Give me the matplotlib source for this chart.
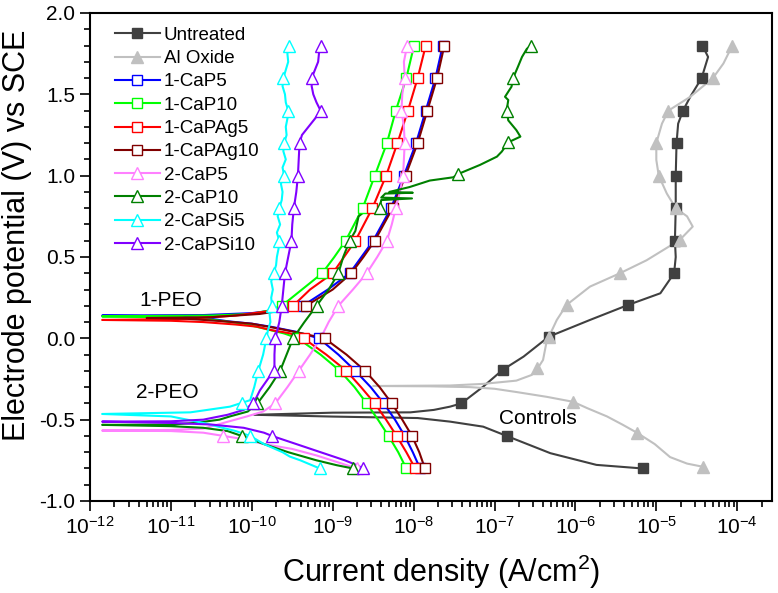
import numpy as np
import matplotlib
matplotlib.use("Agg")
import matplotlib.pyplot as plt
from matplotlib.lines import Line2D
from matplotlib.ticker import LogLocator, MultipleLocator, LogFormatterMathtext, FormatStrFormatter

plt.rcParams['font.family'] = ['Liberation Sans', 'DejaVu Sans']
plt.rcParams['axes.unicode_minus'] = False
plt.rcParams['mathtext.fontset'] = 'custom'
plt.rcParams['mathtext.rm'] = 'Liberation Sans'
plt.rcParams['mathtext.it'] = 'Liberation Sans:italic'

# ---------------- data: (potential V vs SCE, log10 current density A/cm2) ----------------
# Untreated
unt_E = [-0.80, -0.778, -0.706, -0.60, -0.543, -0.512, -0.49, -0.481, -0.47,
         -0.457, -0.455, -0.44, -0.42, -0.40, -0.297, -0.194, -0.112, 0.01, 0.113, 0.205,
         0.277, 0.40, 0.50, 0.60, 0.80, 1.00, 1.20, 1.32, 1.40, 1.485, 1.60, 1.73, 1.77, 1.80]
unt_I = [-5.17, -5.74, -6.31, -6.85, -7.14, -7.55, -7.95, -9.0, -9.97,
         -9.0, -8.04, -7.75, -7.55, -7.41, -7.14, -6.90, -6.64, -6.33, -5.82, -5.35,
         -4.95, -4.78, -4.76, -4.77, -4.76, -4.76, -4.75, -4.73, -4.67, -4.58, -4.44, -4.36, -4.40, -4.43]
unt_mE = [-0.80, -0.60, -0.40, -0.194, 0.01, 0.205, 0.40, 0.60, 0.80, 1.00, 1.20, 1.40, 1.60, 1.80]
unt_mI = [-5.17, -6.85, -7.41, -6.90, -6.33, -5.35, -4.78, -4.77, -4.76, -4.76, -4.75, -4.67, -4.44, -4.43]

# Al Oxide
alo_E = [-0.79, -0.77, -0.73, -0.65, -0.58, -0.53, -0.48, -0.43, -0.39, -0.36, -0.33, -0.31,
         -0.30, -0.295, -0.293, -0.29, -0.28, -0.26, -0.225, -0.195, -0.133, -0.03, 0.007,
         0.113, 0.205, 0.318, 0.40, 0.48, 0.605, 0.687, 0.75, 0.80, 0.89, 1.00, 1.097, 1.20,
         1.32, 1.40, 1.485, 1.60, 1.69, 1.80]
alo_I = [-4.42, -4.62, -4.83, -5.02, -5.24, -5.42, -5.61, -5.85, -6.03, -6.35, -6.73, -7.0,
         -7.3, -7.8, -8.5, -7.55, -7.14, -6.73, -6.54, -6.48, -6.40, -6.36, -6.33,
         -6.23, -6.11, -5.82, -5.45, -5.12, -4.71, -4.55, -4.62, -4.76, -4.87, -4.97, -5.0, -5.0,
         -4.93, -4.85, -4.58, -4.30, -4.17, -4.06]
alo_mE = [-0.79, -0.58, -0.39, -0.185, 0.007, 0.205, 0.40, 0.605, 0.80, 1.00, 1.20, 1.40, 1.60, 1.80]
alo_mI = [-4.42, -5.24, -6.03, -6.48, -6.33, -6.11, -5.45, -4.71, -4.76, -4.97, -5.0, -4.85, -4.30, -4.06]

POT = [-0.8, -0.6, -0.4, -0.2, 0.0, 0.2, 0.4, 0.6, 0.8, 1.0, 1.2, 1.4, 1.6, 1.8]

# 1-CaP5
c5_E = [-0.8, -0.7, -0.6, -0.5, -0.4, -0.3, -0.2, -0.1, 0.0, 0.04, 0.07, 0.09, 0.105, 0.12, 0.135, 0.14,
        0.143, 0.155, 0.18, 0.2, 0.3, 0.4, 0.6, 0.8, 1.0, 1.2, 1.4, 1.6, 1.8]
c5_I = [-7.92, -8.01, -8.11, -8.23, -8.37, -8.53, -8.72, -8.93, -9.17, -9.45, -9.75, -10.0, -10.3, -10.5, -11.0, -11.85,
        -10.6, -10.0, -9.6, -9.37, -9.06, -8.79, -8.50, -8.28, -8.12, -7.97, -7.85, -7.73, -7.64]
c5_mI = [-7.92, -8.11, -8.37, -8.72, -9.17, -9.37, -8.79, -8.50, -8.28, -8.12, -7.97, -7.85, -7.73, -7.64]

# 1-CaP10
c10_E = [-0.8, -0.7, -0.6, -0.5, -0.4, -0.3, -0.2, -0.1, 0.0, 0.03, 0.06, 0.09, 0.115, 0.13, 0.135,
         0.14, 0.15, 0.17, 0.2, 0.3, 0.4, 0.5, 0.6, 0.8, 1.0, 1.2, 1.4, 1.6, 1.8]
c10_I = [-8.09, -8.19, -8.31, -8.44, -8.58, -8.73, -8.91, -9.15, -9.43, -9.6, -9.85, -10.1, -10.5, -11.0, -11.85,
         -10.5, -10.0, -9.8, -9.63, -9.38, -9.13, -8.98, -8.84, -8.63, -8.48, -8.33, -8.22, -8.09, -7.995]
c10_mI = [-8.09, -8.31, -8.58, -8.91, -9.43, -9.63, -9.13, -8.84, -8.63, -8.48, -8.33, -8.22, -8.09, -7.995]

# 1-CaPAg5
a5_E = [-0.8, -0.7, -0.6, -0.5, -0.4, -0.3, -0.2, -0.1, 0.0, 0.031, 0.05, 0.072, 0.085, 0.10, 0.108, 0.113,
        0.12, 0.14, 0.17, 0.2, 0.3, 0.4, 0.5, 0.6, 0.8, 1.0, 1.2, 1.4, 1.6, 1.8]
a5_I = [-7.98, -8.09, -8.21, -8.34, -8.48, -8.65, -8.83, -9.08, -9.36, -9.53, -9.75, -9.94, -10.2, -10.6, -11.0, -11.85,
        -10.8, -10.2, -9.75, -9.49, -9.28, -9.0, -8.86, -8.72, -8.51, -8.34, -8.20, -8.07, -7.95, -7.85]
a5_mI = [-7.98, -8.21, -8.48, -8.83, -9.36, -9.49, -9.0, -8.72, -8.51, -8.34, -8.20, -8.07, -7.95, -7.85]

# 1-CaPAg10
a10_E = [-0.8, -0.7, -0.6, -0.5, -0.4, -0.3, -0.2, -0.1, 0.0, 0.03, 0.062, 0.09, 0.105, 0.12, 0.125,
         0.13, 0.15, 0.18, 0.2, 0.3, 0.4, 0.5, 0.6, 0.8, 1.0, 1.2, 1.4, 1.6, 1.8]
a10_I = [-7.86, -7.93, -8.02, -8.14, -8.27, -8.42, -8.60, -8.83, -9.10, -9.38, -9.69, -10.0, -10.35, -10.8, -11.3,
         -10.5, -9.9, -9.5, -9.33, -9.0, -8.77, -8.62, -8.48, -8.26, -8.10, -7.95, -7.83, -7.71, -7.62]
a10_mI = [-7.86, -8.02, -8.27, -8.60, -9.10, -9.33, -8.77, -8.48, -8.26, -8.10, -7.95, -7.83, -7.71, -7.62]

# 2-CaP5
p5_E = [-0.8, -0.76, -0.72, -0.68, -0.65, -0.62, -0.6, -0.58, -0.57, -0.567,
        -0.563, -0.555, -0.52, -0.48, -0.45, -0.4, -0.3, -0.2, -0.1, 0.0, 0.1, 0.2, 0.3, 0.4, 0.5, 0.6,
        0.7, 0.8, 0.9, 1.0, 1.1, 1.2, 1.3, 1.4, 1.5, 1.6, 1.7, 1.8]
p5_I = [-8.70, -8.95, -9.2, -9.5, -9.85, -10.1, -10.35, -10.6, -11.0, -11.85,
        -11.0, -10.6, -10.35, -10.06, -9.86, -9.71, -9.56, -9.42, -9.28, -9.15, -9.05, -8.93, -8.75, -8.58, -8.45, -8.33,
        -8.27, -8.22, -8.17, -8.13, -8.12, -8.11, -8.12, -8.15, -8.14, -8.11, -8.12, -8.08]
p5_mE = [-0.8, -0.6, -0.4, -0.2, 0.2, 0.4, 0.6, 0.8, 1.0, 1.2, 1.4, 1.6, 1.8]
p5_mI = [-8.70, -10.35, -9.71, -9.42, -8.93, -8.58, -8.33, -8.22, -8.13, -8.11, -8.15, -8.11, -8.08]

# 2-CaP10
g10_E = [-0.8, -0.78, -0.75, -0.7, -0.65, -0.6, -0.57, -0.55, -0.54, -0.532,
         -0.53, -0.52, -0.5, -0.48, -0.45, -0.4, -0.3, -0.2, -0.1, 0.0, 0.1, 0.2, 0.3, 0.4, 0.5, 0.6,
         0.66, 0.75, 0.79, 0.8, 0.85, 0.86, 0.865, 0.89, 0.895, 0.90, 0.93, 0.97, 0.99, 1.01,
         1.066, 1.117, 1.148, 1.205, 1.24, 1.28, 1.34, 1.40, 1.465, 1.485, 1.547, 1.60, 1.67, 1.73, 1.78, 1.80]
g10_I = [-8.75, -8.95, -9.2, -9.55, -9.85, -10.125, -10.3, -10.6, -11.0, -11.85,
         -11.0, -10.7, -10.4, -10.27, -10.05, -9.93, -9.78, -9.65, -9.57, -9.49, -9.35, -9.20, -9.05, -8.93, -8.87, -8.79,
         -8.72, -8.68, -8.58, -8.42, -8.40, -8.02, -8.40, -8.35, -8.01, -8.30, -8.05, -7.80, -7.51, -7.45,
         -7.18, -6.97, -6.91, -6.83, -6.68, -6.73, -6.83, -6.85, -6.83, -6.87, -6.79, -6.77, -6.71, -6.66, -6.60, -6.55]
g10_mE = [-0.8, -0.6, -0.4, -0.2, 0.0, 0.2, 0.4, 0.6, 0.8, 1.01, 1.205, 1.40, 1.60, 1.80]
g10_mI = [-8.75, -10.125, -9.93, -9.65, -9.49, -9.20, -8.93, -8.79, -8.42, -7.45, -6.83, -6.85, -6.77, -6.55]

# 2-CaPSi5
s5_E = [-0.8, -0.75, -0.727, -0.7, -0.65, -0.6, -0.57, -0.52, -0.48, -0.465,
        -0.455, -0.42, -0.38, -0.3, -0.2, -0.1, 0.0, 0.05, 0.1, 0.15, 0.2, 0.25, 0.3, 0.35, 0.4, 0.45,
        0.5, 0.55, 0.6, 0.65, 0.7, 0.75, 0.8, 0.85, 0.9, 0.95, 1.0, 1.05, 1.1, 1.15, 1.2, 1.25,
        1.3, 1.35, 1.4, 1.45, 1.5, 1.55, 1.6, 1.65, 1.7, 1.75, 1.8]
s5_I = [-9.16, -9.4, -9.53, -9.62, -9.85, -10.02, -10.2, -10.6, -11.0, -11.85,
        -10.76, -10.27, -10.02, -9.97, -9.92, -9.86, -9.82, -9.80, -9.77, -9.78, -9.75, -9.76, -9.74, -9.76, -9.73, -9.70,
        -9.69, -9.67, -9.66, -9.69, -9.65, -9.68, -9.66, -9.63, -9.62, -9.64, -9.60, -9.62, -9.58, -9.61, -9.60, -9.57,
        -9.58, -9.56, -9.55, -9.58, -9.59, -9.62, -9.61, -9.58, -9.55, -9.56, -9.54]
s5_mE = [-0.8, -0.6, -0.4, -0.2, 0.0, 0.2, 0.4, 0.6, 0.8, 1.0, 1.2, 1.4, 1.6, 1.8]
s5_mI = [-9.16, -10.02, -10.12, -9.92, -9.82, -9.75, -9.73, -9.66, -9.66, -9.60, -9.60, -9.55, -9.61, -9.54]

# 2-CaPSi10
s10_E = [-0.8, -0.78, -0.75, -0.7, -0.65, -0.6, -0.58, -0.55, -0.53, -0.52, -0.512,
         -0.51, -0.50, -0.47, -0.44, -0.4, -0.32, -0.235, -0.2, -0.1, 0.0, 0.1, 0.2, 0.3, 0.4, 0.5, 0.6,
         0.7, 0.8, 0.9, 1.0, 1.1, 1.2, 1.25, 1.3, 1.35, 1.4, 1.45, 1.5, 1.55, 1.6, 1.65, 1.7, 1.75, 1.8]
s10_I = [-8.62, -8.70, -8.85, -9.15, -9.45, -9.75, -9.85, -10.1, -10.5, -11.0, -11.85,
         -11.0, -10.6, -10.3, -10.1, -9.98, -9.90, -9.78, -9.72, -9.72, -9.71, -9.66, -9.63, -9.61, -9.59, -9.55, -9.51,
         -9.50, -9.48, -9.45, -9.43, -9.42, -9.41, -9.38, -9.30, -9.22, -9.15, -9.20, -9.24, -9.26, -9.26, -9.22, -9.18, -9.17, -9.15]
s10_mE = [-0.8, -0.6, -0.4, -0.2, 0.0, 0.2, 0.4, 0.6, 0.8, 1.0, 1.2, 1.4, 1.6, 1.8]
s10_mI = [-8.62, -9.75, -9.98, -9.72, -9.71, -9.63, -9.59, -9.51, -9.48, -9.43, -9.41, -9.15, -9.26, -9.15]

labels = ["Untreated", "Al Oxide", "1-CaP5", "1-CaP10", "1-CaPAg5", "1-CaPAg10",
          "2-CaP5", "2-CaP10", "2-CaPSi5", "2-CaPSi10"]
colors = ["#404040", "#c0c0c0", "#0000ff", "#00ff00", "#ff0000", "#800000",
          "#ff80ff", "#008000", "#00ffff", "#8000ff"]

series = [
    (unt_E, unt_I, unt_mE, unt_mI, 's', True),
    (alo_E, alo_I, alo_mE, alo_mI, '^', True),
    (c5_E, c5_I, POT, c5_mI, 's', False),
    (c10_E, c10_I, POT, c10_mI, 's', False),
    (a5_E, a5_I, POT, a5_mI, 's', False),
    (a10_E, a10_I, POT, a10_mI, 's', False),
    (p5_E, p5_I, p5_mE, p5_mI, '^', False),
    (g10_E, g10_I, g10_mE, g10_mI, '^', False),
    (s5_E, s5_I, s5_mE, s5_mI, '^', False),
    (s10_E, s10_I, s10_mE, s10_mI, '^', False),
]

fig = plt.figure(figsize=(7.78, 5.93), dpi=100)
ax = fig.add_axes([90/778, 92/593, 682/778, 488/593])

handles = []
for (E, I, mE, mI, mk, filled), lab, col in zip(series, labels, colors):
    ms = 7 if mk == 's' else 8.5
    fc = col if filled else 'white'
    ax.plot(10.0 ** np.array(I), E, color=col, lw=1.5, zorder=2)
    ax.plot(10.0 ** np.array(mI), mE, linestyle='none', marker=mk, ms=ms,
            mfc=fc, mec=col, mew=1.0, zorder=3)
    handles.append(Line2D([], [], color=col, lw=1.5, marker=mk, ms=ms, mfc=fc, mec=col, mew=1.0))

ax.set_xscale('log')
ax.set_xlim(1e-12, 10 ** -3.57)
ax.set_ylim(-1.0, 2.0)
ax.xaxis.set_major_locator(LogLocator(base=10, numticks=20))
ax.xaxis.set_minor_locator(LogLocator(base=10, subs=np.arange(2, 10), numticks=50))
ax.xaxis.set_major_formatter(LogFormatterMathtext())
ax.yaxis.set_major_locator(MultipleLocator(0.5))
ax.yaxis.set_minor_locator(MultipleLocator(0.1))
ax.yaxis.set_major_formatter(FormatStrFormatter('%.1f'))
ax.tick_params(which='both', direction='out', top=False, right=False, width=1.2, labelsize=15)
ax.tick_params(which='major', length=7)
ax.tick_params(which='minor', length=4)
for s in ax.spines.values():
    s.set_linewidth(1.5)

ax.set_xlabel("Current density (A/cm$^2$)", fontsize=22)
ax.set_ylabel("Electrode potential (V) vs SCE", fontsize=22)
ax.xaxis.set_label_coords(0.515, -0.105)
ax.yaxis.set_label_coords(-0.085, 0.545)

ax.text(10 ** -11.0, 0.23, "1-PEO", fontsize=15, ha='center', va='center')
ax.text(10 ** -11.05, -0.33, "2-PEO", fontsize=15, ha='center', va='center')
ax.text(10 ** -6.47, -0.49, "Controls", fontsize=15, ha='center', va='center')

ax.legend(handles, labels, loc='upper left', bbox_to_anchor=(0.02, 0.995), frameon=False,
          fontsize=13.5, handlelength=2.4, handletextpad=0.2, labelspacing=0.33, borderaxespad=0.2)

fig.savefig("out.png", dpi=100)
